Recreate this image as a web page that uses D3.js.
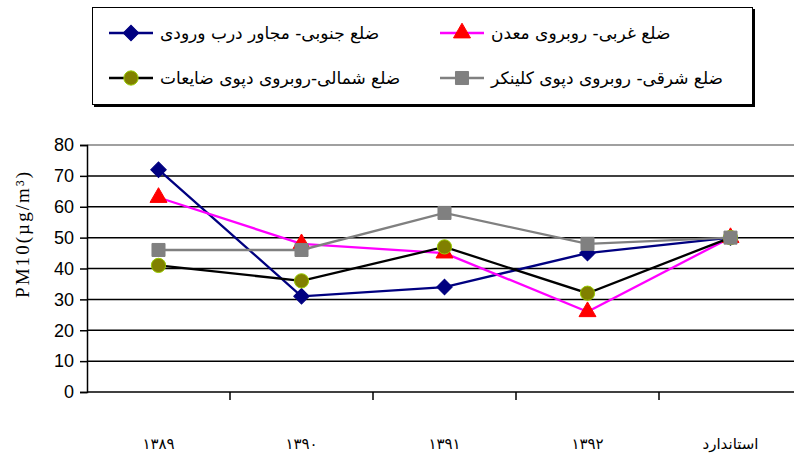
<!DOCTYPE html>
<html>
<head>
<meta charset="utf-8">
<script src="https://cdn.jsdelivr.net/npm/d3@7"></script>
<style>
  body { margin: 0; background: #fff; }
  svg { display: block; }
</style>
</head>
<body>
<div id="chart"></div>
<script>
// data
var categories = ["۱۳۸۹", "۱۳۹۰", "۱۳۹۱", "۱۳۹۲", "استاندارد"];
var seriesNames = [
  "ضلع جنوبی- مجاور درب ورودی",
  "ضلع غربی- روبروی معدن",
  "ضلع شمالی-روبروی دپوی ضایعات",
  "ضلع شرقی- روبروی دپوی کلینکر"
];
var southValues = [72, 31, 34, 45, 50];
var westValues = [63, 48, 45, 26, 50];
var northValues = [41, 36, 47, 32, 50];
var eastValues = [46, 46, 58, 48, 50];
var yTicks = [0, 10, 20, 30, 40, 50, 60, 70, 80];

var series = [
  { name: seriesNames[0], values: southValues, line: "#000080", fill: "#000080", stroke: "#000080", shape: "diamond" },
  { name: seriesNames[1], values: westValues, line: "#ff00ff", fill: "#ff0000", stroke: "#ff0000", shape: "triangle" },
  { name: seriesNames[2], values: northValues, line: "#000000", fill: "#808000", stroke: "#99cc00", shape: "circle" },
  { name: seriesNames[3], values: eastValues, line: "#808080", fill: "#808080", stroke: "#808080", shape: "square" }
];

var W = 794, H = 458;
var plot = { left: 87, right: 802, top: 145, bottom: 392 };

var svg = d3.select("#chart").append("svg")
    .attr("width", W)
    .attr("height", H);

var x = d3.scaleBand()
    .domain(categories)
    .range([plot.left, plot.right]);

var y = d3.scaleLinear()
    .domain([0, 80])
    .range([plot.bottom, plot.top]);

// gridlines
svg.append("g")
  .selectAll("line")
  .data(yTicks.filter(function (d) { return d > 0 && d < 80; }))
  .enter().append("line")
    .attr("x1", plot.left).attr("x2", plot.right)
    .attr("y1", function (d) { return y(d); })
    .attr("y2", function (d) { return y(d); })
    .attr("stroke", "#000")
    .attr("stroke-width", 1.5);

// plot area border (top)
svg.append("line")
    .attr("x1", plot.left).attr("x2", plot.right)
    .attr("y1", plot.top).attr("y2", plot.top)
    .attr("stroke", "#808080")
    .attr("stroke-width", 1.5);

// y axis
var yAxis = svg.append("g")
    .attr("transform", "translate(" + plot.left + ",0)")
    .call(d3.axisLeft(y).tickValues(yTicks).tickSize(7).tickPadding(6));
yAxis.select(".domain").attr("stroke", "#000").attr("stroke-width", 1.5);
yAxis.selectAll(".tick line").attr("stroke", "#000").attr("stroke-width", 1.5);
yAxis.selectAll("text")
    .style("font-family", "'Liberation Sans', Arial, sans-serif")
    .style("font-size", "18px")
    .attr("fill", "#000");

// x axis, ticks between categories
var xAxis = svg.append("g")
    .attr("transform", "translate(0," + plot.bottom + ")");
xAxis.append("line")
    .attr("x1", plot.left).attr("x2", plot.right)
    .attr("stroke", "#000").attr("stroke-width", 1.5);
xAxis.selectAll(".xtick")
    .data(categories.slice(1))
    .enter().append("line")
    .attr("x1", function (d) { return x(d); })
    .attr("x2", function (d) { return x(d); })
    .attr("y1", 0).attr("y2", 8)
    .attr("stroke", "#000").attr("stroke-width", 1.5);
xAxis.selectAll(".xlabel")
    .data(categories)
    .enter().append("text")
    .attr("x", function (d) { return x(d) + x.bandwidth() / 2; })
    .attr("y", 57)
    .attr("text-anchor", "middle")
    .style("font-family", "'DejaVu Sans', sans-serif")
    .style("font-size", "15px")
    .attr("fill", "#000")
    .text(function (d) { return d; });

// y axis title
svg.append("text")
    .attr("transform", "translate(29,235) rotate(-90)")
    .attr("text-anchor", "middle")
    .style("font-family", "'Liberation Serif', 'Times New Roman', serif")
    .style("font-size", "19px")
    .attr("textLength", 126)
    .attr("fill", "#000")
    .text("PM10(µg/m³)");

// markers
var symbolTypes = {
  diamond: d3.symbolSquare,
  triangle: d3.symbolTriangle,
  circle: d3.symbolCircle,
  square: d3.symbolSquare
};
var symbolSizes = { diamond: 120, triangle: 125, circle: 160, square: 170 };
function marker(sel, s) {
  sel.attr("d", d3.symbol().type(symbolTypes[s.shape]).size(symbolSizes[s.shape])())
     .attr("fill", s.fill)
     .attr("stroke", s.stroke)
     .attr("stroke-width", 1);
}
function markerPos(px, py, s) {
  return "translate(" + px + "," + py + ")" + (s.shape === "diamond" ? " rotate(45)" : "");
}

var line = d3.line()
    .x(function (d, i) { return x(categories[i]) + x.bandwidth() / 2; })
    .y(function (d) { return y(d); });

series.forEach(function (s) {
  var g = svg.append("g");
  g.append("path")
      .attr("d", line(s.values))
      .attr("fill", "none")
      .attr("stroke", s.line)
      .attr("stroke-width", 2.3);
  g.selectAll("path.m")
      .data(s.values)
      .enter().append("path")
      .attr("class", "m")
      .attr("transform", function (d, i) {
        return markerPos(x(categories[i]) + x.bandwidth() / 2, y(d), s);
      })
      .call(marker, s);
});

// legend
var legend = svg.append("g");
legend.append("rect")
    .attr("x", 94).attr("y", 9).attr("width", 661).attr("height", 98)
    .attr("fill", "#000");
legend.append("rect")
    .attr("x", 92.5).attr("y", 7.5).attr("width", 660).attr("height", 97)
    .attr("fill", "#fff").attr("stroke", "#000").attr("stroke-width", 1);

var legendPos = [[109, 33], [440, 33], [109, 78], [440, 78]];
series.forEach(function (s, i) {
  var p = legendPos[i];
  var g = legend.append("g").attr("transform", "translate(" + p[0] + "," + p[1] + ")");
  g.append("line")
      .attr("x1", 0).attr("x2", 44)
      .attr("stroke", s.line).attr("stroke-width", 2.5);
  g.append("path")
      .attr("transform", markerPos(22, 0, s))
      .call(marker, s);
  g.append("text")
      .attr("x", 51)
      .attr("y", 6)
      .attr("direction", "rtl")
      .attr("text-anchor", "end")
      .style("font-family", "'DejaVu Sans', sans-serif")
      .style("font-size", "17px")
      .attr("fill", "#000")
      .text(s.name);
});
</script>
</body>
</html>
